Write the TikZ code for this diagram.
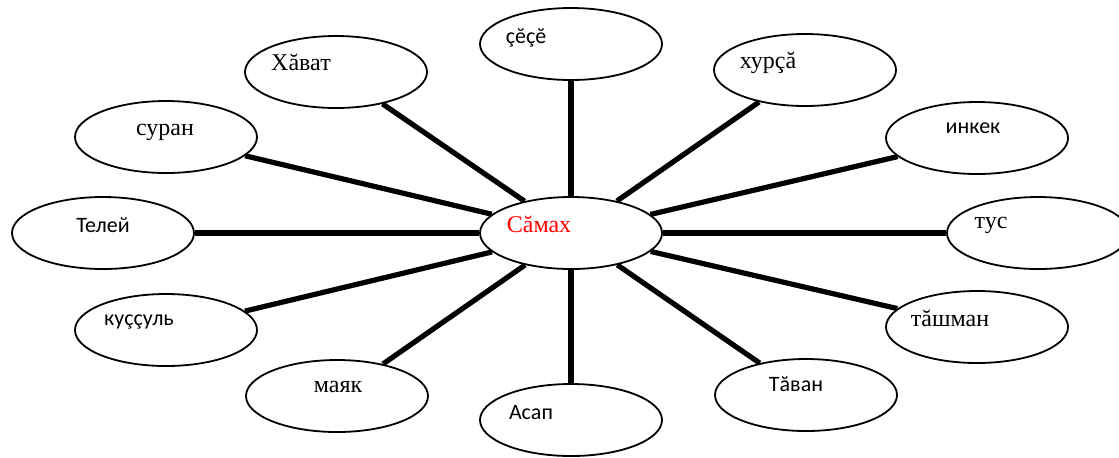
\documentclass[tikz,border=0pt]{standalone}
\usepackage{fontspec}
\setmainfont{Liberation Serif}
\newfontfamily\sansword{Carlito}
\usetikzlibrary{shapes.geometric}
\newcommand{\blobwidth}{91pt}
\newcommand{\blobheight}{36pt}
\tikzset{
  blob/.style={draw,fill=white,shape=ellipse,line width=0.9pt,minimum width=\blobwidth,minimum height=\blobheight,inner sep=0},
  spoke/.style={draw,line width=2.6pt},
  serif/.style={font=\fontsize{12}{14}\selectfont},
  sans/.style={font=\sansword\fontsize{11}{13}\selectfont},
}
\begin{document}
\begin{tikzpicture}[x=0.5pt,y=-0.5pt]
  \useasboundingbox (0,0) rectangle (1119,457);
  \node (c) [blob,label={[serif,text=red,shift={(-32,-9)}]center:Сăмах}] at (571,233) {};
  \node (hvat) [blob,label={[serif,shift={(-35,-10)}]center:Хăват}] at (336,72) {};
  \node (sece) [blob,label={[sans,shift={(-45,-6)}]center:çĕçĕ}] at (571,44) {};
  \node (hursa) [blob,label={[serif,shift={(-37,-7)}]center:хурçă}] at (805,70) {};
  \node (suran) [blob,label={[serif,shift={(-1,-5)}]center:суран}] at (166,137) {};
  \node (inkek) [blob,label={[sans,shift={(-4,-10)}]center:инкек}] at (977,138) {};
  \node (teley) [blob,label={[sans,shift={(0,-8)}]center:Телей}] at (103,233) {};
  \node (tus) [blob,label={[serif,shift={(-47,-8)}]center:тус}] at (1038,233) {};
  \node (kussul) [blob,label={[sans,shift={(-27,-8)}]center:куççуль}] at (166,330) {};
  \node (tasman) [blob,label={[serif,shift={(-27,-9)}]center:тăшман}] at (977,327) {};
  \node (mayak) [blob,label={[serif,shift={(1,-9)}]center:маяк}] at (337,396) {};
  \node (asap) [blob,label={[sans,shift={(-40,-7)}]center:Асап}] at (571,420) {};
  \node (tavan) [blob,label={[sans,shift={(-10,-11)}]center:Тăван}] at (806,395) {};
  \foreach \n in {hvat,sece,hursa,suran,inkek,teley,tus,kussul,tasman,mayak,asap,tavan}
    \path [spoke] (c) -- (\n);
\end{tikzpicture}
\end{document}
